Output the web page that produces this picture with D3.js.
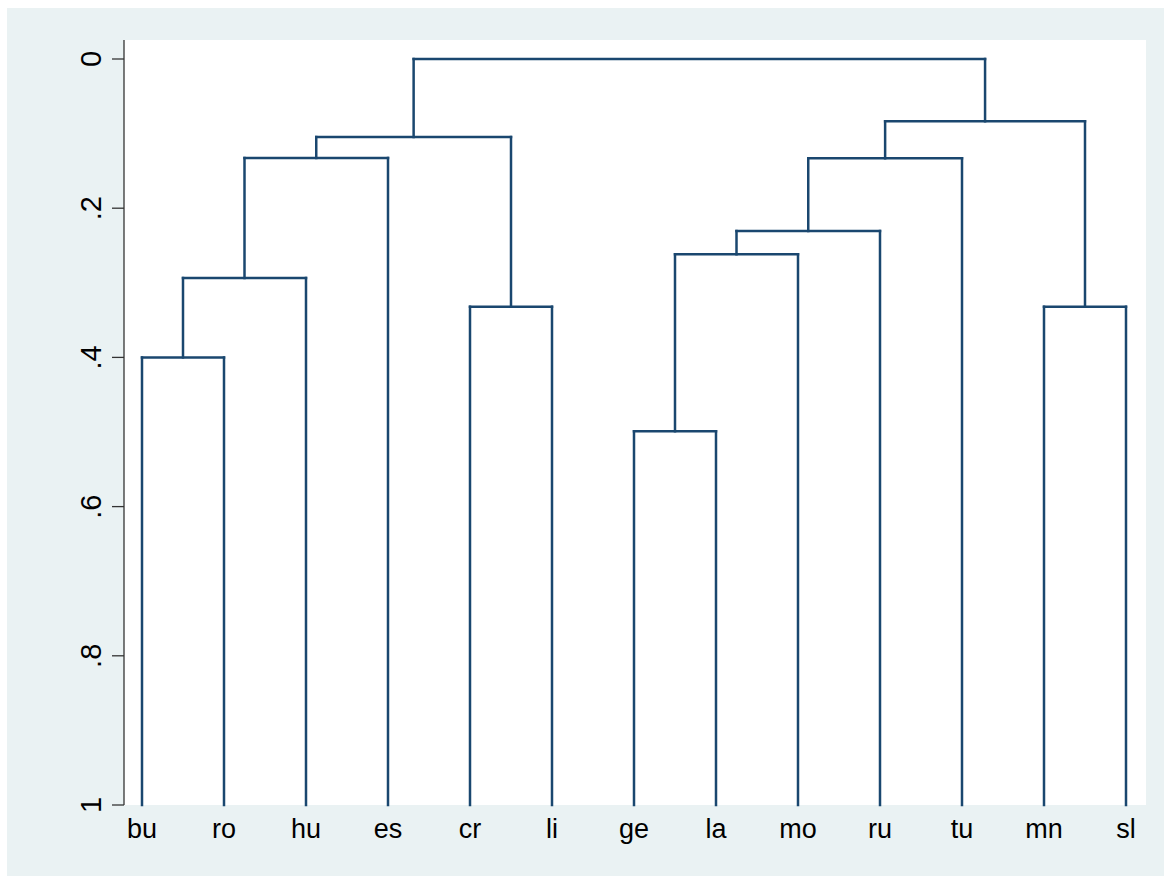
<!DOCTYPE html>
<html>
    <head>
        <title>dendrogram</title>
        <script src="https://d3js.org/d3.v7.min.js"></script>
        <style>
            body{
                margin: 0;
                background-color: white;
            }
            text{
                font-family: "Liberation Sans", Arial, sans-serif;
                fill: black;
            }
        </style>
    </head>

    <body>
        <svg id="myCanvas" width="1164" height="876"></svg>

        <script>
            // leaves in the order they are drawn
            const labels = ["bu","ro","hu","es","cr","li","ge","la","mo","ru","tu","mn","sl"]

            // merges in order: left child, right child, height
            // a child is a leaf name or "m"+index of an earlier merge
            const mergeLeft   = ["bu", "m0",   "m1",   "cr",  "m2",   "ge",  "m5",   "m6",   "m7",   "mn",  "m8",   "m4"]
            const mergeRight  = ["ro", "hu",   "es",   "li",  "m3",   "la",  "mo",   "ru",   "tu",   "sl",  "m9",   "m10"]
            const mergeHeight = [0.400, 0.2936, 0.1327, 0.332, 0.1046, 0.499, 0.2618, 0.2306, 0.1331, 0.332, 0.0835, 0]

            const yTicks = [0, 0.2, 0.4, 0.6, 0.8, 1]
            const yTickLabels = ["0", ".2", ".4", ".6", ".8", "1"]

            svg = d3.select("#myCanvas")

            // outer background and plot region
            svg.append("rect").attr("x", 7).attr("y", 8).attr("width", 1157).attr("height", 868)
                .attr("fill", "#eaf2f3")
            svg.append("rect").attr("x", 124).attr("y", 40).attr("width", 1022).attr("height", 765)
                .attr("fill", "white")

            x = d3.scalePoint(labels, [142, 1126])
            y = d3.scaleLinear([0, 1], [59, 805])

            // nodes: leaves sit at height 1
            nodes = {}
            labels.forEach(l => nodes[l] = {x: x(l), h: 1})

            segs = []
            mergeHeight.forEach((h, i) => {
                a = nodes[mergeLeft[i]]
                b = nodes[mergeRight[i]]
                // verticals from the merge height down to each child
                segs.push([a.x, h, a.x, a.h])
                segs.push([b.x, h, b.x, b.h])
                // horizontal bar
                segs.push([a.x, h, b.x, h])
                // the new node sits in the middle of its children
                nodes["m" + i] = {x: (a.x + b.x) / 2, h: h}
            })

            svg.append("g")
                .selectAll("line")
                .data(segs)
                .join("line")
                .attr("x1", d => d[0])
                .attr("y1", d => y(d[1]))
                .attr("x2", d => d[2])
                .attr("y2", d => y(d[3]))
                .attr("stroke", "#1a476f")
                .attr("stroke-width", 2.5)
                .attr("stroke-linecap", "square")

            // y axis
            svg.append("line")
                .attr("x1", 124).attr("x2", 124)
                .attr("y1", 40).attr("y2", 805)
                .attr("stroke", "#333").attr("stroke-width", 1.3)

            svg.append("g")
                .selectAll("line")
                .data(yTicks)
                .join("line")
                .attr("x1", 112).attr("x2", 124)
                .attr("y1", d => y(d)).attr("y2", d => y(d))
                .attr("stroke", "#333").attr("stroke-width", 1.3)

            svg.append("g")
                .selectAll("text")
                .data(yTicks)
                .join("text")
                .attr("transform", d => "translate(101," + y(d) + ") rotate(-90)")
                .attr("text-anchor", "middle")
                .style("font-size", "29px")
                .text((d, i) => yTickLabels[i])

            // leaf labels
            svg.append("g")
                .selectAll("text")
                .data(labels)
                .join("text")
                .attr("x", d => x(d))
                .attr("y", 838)
                .attr("text-anchor", "middle")
                .style("font-size", "27px")
                .text(d => d)
        </script>
    </body>
</html>
